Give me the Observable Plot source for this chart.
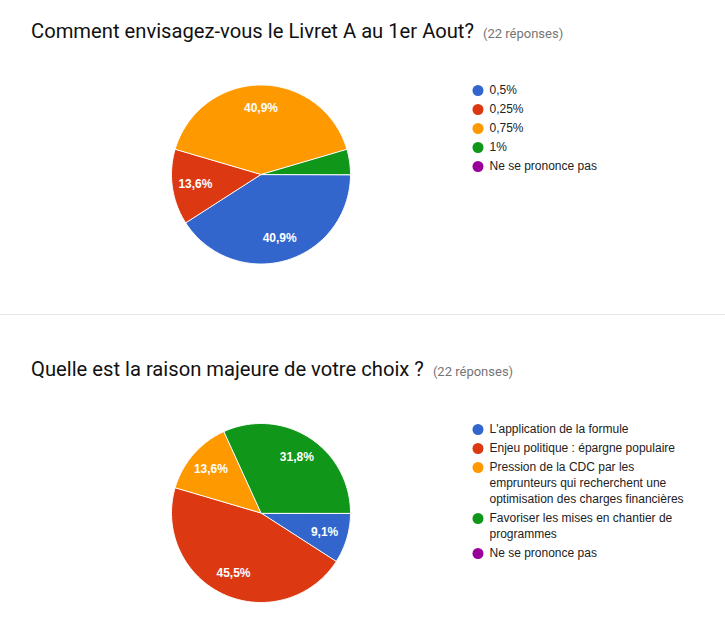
<!DOCTYPE html>
<html>
<head>
<meta charset="utf-8">
<script src="https://cdn.jsdelivr.net/npm/d3@7"></script>
<script src="https://cdn.jsdelivr.net/npm/@observablehq/plot@0.6"></script>
<style>
  body { margin: 0; background: #fff; width: 725px; height: 618px; overflow: hidden; position: relative; }
  #chart { position: absolute; left: 0; top: 0; }
  .title { position: absolute; left: 31px; font-family: Roboto, sans-serif; font-size: 20.2px; line-height: 24px; color: #111; white-space: nowrap; }
  .title .count { font-size: 13px; color: #757575; margin-left: 9px; }
</style>
</head>
<body>
<div id="chart"></div>
<div class="title" id="t1" style="top:19px"></div>
<div class="title" id="t2" style="top:357px"></div>
<script>
// ---- data ----
const title1 = "Comment envisagez-vous le Livret A au 1er Aout?";
const title2 = "Quelle est la raison majeure de votre choix ?";
const responsesText = "(22 réponses)";
const pie1Labels = ["0,5%", "0,25%", "0,75%", "1%", "Ne se prononce pas"];
const pie1Counts = [9, 3, 9, 1, 0];
const pie2Labels = [
  "L'application de la formule",
  "Enjeu politique : épargne populaire",
  "Pression de la CDC par les\nemprunteurs qui recherchent une\noptimisation des charges financières",
  "Favoriser les mises en chantier de\nprogrammes",
  "Ne se prononce pas"
];
const pie2Counts = [2, 10, 3, 7, 0];
const palette = ["#3366cc", "#dc3912", "#ff9900", "#109618", "#990099"];

// ---- titles ----
for (const [id, t] of [["t1", title1], ["t2", title2]]) {
  const el = document.getElementById(id);
  el.textContent = t;
  const s = document.createElement("span");
  s.className = "count";
  s.textContent = responsesText;
  el.appendChild(s);
}

// ---- geometry helpers ----
function pieGeometry(counts, labels, cx, cy, r, key) {
  const total = d3.sum(counts);
  const arcs = d3.pie().sort(null).startAngle(Math.PI / 2).endAngle(Math.PI / 2 + 2 * Math.PI)(counts);
  const pts = [];
  const lbls = [];
  arcs.forEach((a, i) => {
    if (a.value <= 0) return;
    const id = key + i;
    pts.push({id, x: cx, y: cy, fill: palette[i]});
    const n = Math.max(2, Math.ceil((a.endAngle - a.startAngle) / (Math.PI / 180)));
    for (let k = 0; k <= n; k++) {
      const ang = a.startAngle + (a.endAngle - a.startAngle) * k / n;
      pts.push({id, x: cx + r * Math.sin(ang), y: cy - r * Math.cos(ang), fill: palette[i]});
    }
    const pct = a.value / total * 100;
    if (pct >= 5) {
      const mid = (a.startAngle + a.endAngle) / 2;
      lbls.push({x: cx + 0.74 * r * Math.sin(mid), y: cy - 0.74 * r * Math.cos(mid), text: pct.toFixed(1).replace(".", ",") + "%"});
    }
  });
  return {pts, lbls};
}

function legendGeometry(labels, x0, y0) {
  const dots = [], lines = [];
  let y = y0;
  labels.forEach((lab, i) => {
    dots.push({x: x0, y, fill: palette[i]});
    lab.split("\n").forEach((ln, j) => lines.push({x: x0 + 11.5, y: y + j * 16, text: ln}));
    y += 19 + (lab.split("\n").length - 1) * 16;
  });
  return {dots, lines};
}

const p1 = pieGeometry(pie1Counts, pie1Labels, 260.5, 174, 89.5, "a");
const p2 = pieGeometry(pie2Counts, pie2Labels, 260.5, 512.5, 89.5, "b");
const l1 = legendGeometry(pie1Labels, 477.5, 90);
const l2 = legendGeometry(pie2Labels, 477.5, 429);

const font = "Arial, 'Liberation Sans', sans-serif";
const chart = Plot.plot({
  width: 725,
  height: 618,
  margin: 0,
  style: {fontFamily: font, background: "transparent"},
  x: {domain: [0, 725], range: [0, 725], axis: null},
  y: {domain: [0, 618], range: [0, 618], axis: null},
  color: {type: "identity"},
  marks: [
    Plot.ruleY([314], {stroke: "#e6e6e6", strokeWidth: 1}),
    Plot.line(p1.pts.concat(p2.pts), {x: "x", y: "y", z: "id", fill: "fill", stroke: "#fff", strokeWidth: 1, curve: "linear-closed"}),
    Plot.text(p1.lbls.concat(p2.lbls), {x: "x", y: "y", text: "text", fill: "#fff", fontWeight: "bold", fontSize: 12, fontFamily: font}),
    Plot.dot(l1.dots.concat(l2.dots), {x: "x", y: "y", r: 5.5, fill: "fill", stroke: null}),
    Plot.text(l1.lines.concat(l2.lines), {x: "x", y: "y", text: "text", textAnchor: "start", fill: "#222", fontSize: 12, fontFamily: font})
  ]
});
document.getElementById("chart").appendChild(chart);
</script>
</body>
</html>
